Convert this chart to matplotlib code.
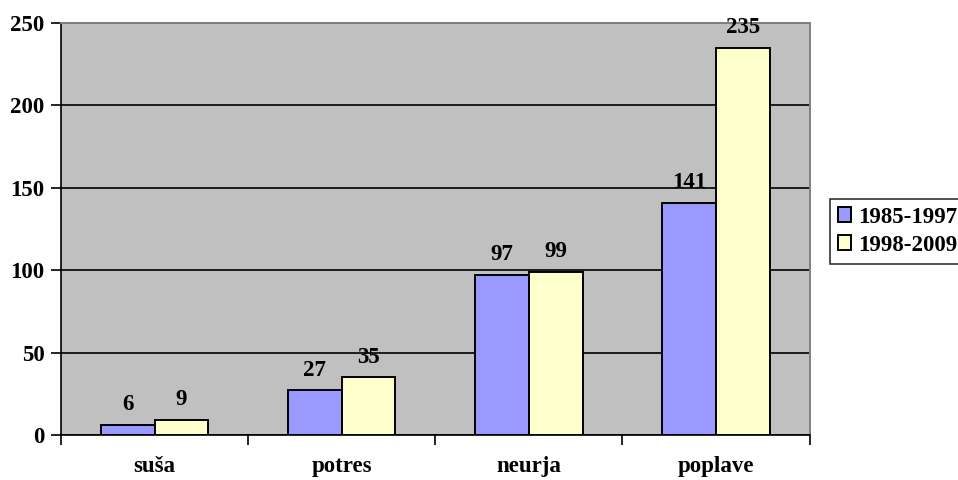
import matplotlib.pyplot as plt
import numpy as np

categories = ['suša', 'potres', 'neurja', 'poplave']
series_names = ['1985-1997', '1998-2009']
values_1985_1997 = [6, 27, 97, 141]
values_1998_2009 = [9, 35, 99, 235]
y_ticks = [0, 50, 100, 150, 200, 250]

plt.rcParams['font.family'] = ['Liberation Serif', 'DejaVu Serif']
plt.rcParams['font.weight'] = 'bold'

fig = plt.figure(figsize=(9.58, 4.8), dpi=100)
ax = fig.add_axes([0.0637, 0.0938, 0.7813, 0.8583])
ax.set_facecolor('#C0C0C0')

x = np.arange(len(categories))
w = 0.287
b1 = ax.bar(x - w / 2, values_1985_1997, w, color='#9999FF', edgecolor='black',
            linewidth=1.4, label=series_names[0], zorder=3)
b2 = ax.bar(x + w / 2, values_1998_2009, w, color='#FFFFCC', edgecolor='black',
            linewidth=1.4, label=series_names[1], zorder=3)

for bars, vals in ((b1, values_1985_1997), (b2, values_1998_2009)):
    for bar, v in zip(bars, vals):
        ax.annotate(str(v), (bar.get_x() + bar.get_width() / 2, v),
                    xytext=(0, 7), textcoords='offset points',
                    ha='center', va='bottom', fontsize=16.5, fontweight='bold')

ax.set_xlim(-0.5, len(categories) - 0.5)
ax.set_ylim(0, 250)
ax.set_yticks(y_ticks)
ax.yaxis.grid(True, color='black', linewidth=1.2, zorder=1)
ax.set_axisbelow(True)

ax.set_xticks(x)
ax.set_xticklabels(categories)
ax.set_xticks(np.arange(-0.5, len(categories)), minor=True)
ax.tick_params(axis='x', which='major', length=0, pad=15, labelsize=16.5)
ax.tick_params(axis='x', which='minor', length=7, width=1.2, direction='out')
ax.tick_params(axis='y', length=7, width=1.2, labelsize=16.5, pad=5)

for side in ('left', 'bottom'):
    ax.spines[side].set_color('black')
    ax.spines[side].set_linewidth(1.2)
for side in ('top', 'right'):
    ax.spines[side].set_color('#808080')
    ax.spines[side].set_linewidth(1.4)

leg = fig.legend(handles=[b1, b2], loc='upper left', bbox_to_anchor=(0.866, 0.586),
                 fontsize=16.5, frameon=True, fancybox=False, edgecolor='black',
                 handlelength=0.6, handleheight=0.6, handletextpad=0.3,
                 borderpad=0.35, labelspacing=0.3, borderaxespad=0)
leg.get_frame().set_linewidth(1.2)

fig.savefig('out.png', dpi=100)
